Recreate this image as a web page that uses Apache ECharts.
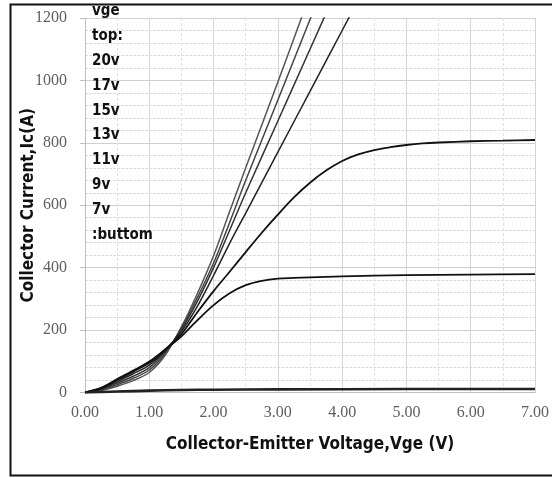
<!DOCTYPE html>
<html lang="en">
<head>
    <meta charset="UTF-8">
    <script src="https://cdn.jsdelivr.net/npm/echarts@6/dist/echarts.min.js"></script>
    <title>IGBT output characteristics</title>
    <style>
        html, body { margin: 0; padding: 0; background: #fff; }
    </style>
</head>
<body>
    <div id="main" style="width: 552px;height:478px;"></div>

    <script type="text/javascript">
        // Vce (V) -> Ic (A), one array per gate voltage
        var vge20 = [[0,0],[0.25,6],[0.5,20],[0.75,38],[1.0,64],[1.25,120],[1.5,210],[1.75,318],[2.0,438],[2.25,580],[2.5,720],[3.0,995],[3.5,1275]];
        var vge17 = [[0,0],[0.25,8],[0.5,25],[0.75,45],[1.0,72],[1.25,126],[1.5,206],[1.75,305],[2.0,415],[2.25,545],[2.5,680],[3.0,937],[3.5,1195],[3.75,1325]];
        var vge15 = [[0,0],[0.25,10],[0.5,30],[0.75,52],[1.0,80],[1.25,131],[1.5,202],[1.75,293],[2.0,400],[2.25,520],[2.5,640],[3.0,870],[3.5,1100],[4.0,1330]];
        var vge13 = [[0,0],[0.25,12],[0.5,35],[0.75,60],[1.0,88],[1.25,135],[1.5,196],[1.75,277],[2.0,375],[2.25,478],[2.5,575],[3.0,770],[3.5,965],[4.0,1160],[4.5,1355]];
        var vge11 = [[0,0],[0.25,14],[0.5,40],[0.75,67],[1.0,95],[1.25,138],[1.5,188],[1.75,258],[2.0,325],[2.25,387],[2.5,450],[2.75,512],[3.0,570],[3.25,625],[3.5,672],[3.75,711],[4.0,742],[4.25,763],[4.5,777],[4.75,786],[5.0,793],[5.25,798],[5.5,801],[6.0,805],[6.5,807],[7.0,809]];
        var vge9 = [[0,0],[0.25,15],[0.5,43],[0.75,70],[1.0,99],[1.25,138],[1.5,180],[1.75,232],[2.0,280],[2.25,318],[2.5,344],[2.75,358],[3.0,365],[3.25,367],[3.5,369],[4.0,372],[5.0,376],[6.0,378],[7.0,379]];
        var vge7 = [[0,0],[0.5,3],[1.0,6],[1.5,8],[2.0,9],[3.0,10],[5.0,11],[7.0,11]];

        var legendLines = ['vge', 'top:', '20v', '17v', '15v', '13v', '11v', '9v', '7v', ':buttom'];

        var curves = [
            { name: '20v', data: vge20, color: '#555', width: 1.5 },
            { name: '17v', data: vge17, color: '#444', width: 1.5 },
            { name: '15v', data: vge15, color: '#333', width: 1.5 },
            { name: '13v', data: vge13, color: '#222', width: 1.5 },
            { name: '11v', data: vge11, color: '#111', width: 1.8 },
            { name: '9v', data: vge9, color: '#111', width: 1.8 },
            { name: '7v', data: vge7, color: '#222', width: 2.6 }
        ];

        var s = [];
        for (var k = 0; k < curves.length; k++) {
            s.push({
                name: curves[k].name,
                type: 'line',
                smooth: 0.3,
                showSymbol: false,
                clip: true,
                lineStyle: { color: curves[k].color, width: curves[k].width },
                data: curves[k].data
            });
        }

        var g = [];
        // outer frame
        g.push({
            type: 'rect',
            shape: { x: 10.5, y: 4.5, width: 560, height: 471 },
            style: { fill: null, stroke: '#111', lineWidth: 2 },
            z: 10
        });
        for (var i = 0; i < legendLines.length; i++) {
            g.push({
                type: 'text',
                left: 92,
                top: 4 + i * 24.8,
                style: {
                    text: legendLines[i],
                    font: 'bold 15px "Liberation Sans Narrow", "DejaVu Sans Condensed", sans-serif',
                    fill: '#111'
                },
                z: 20
            });
        }

        var myChart = echarts.init(document.getElementById('main'));
        myChart.setOption({
            animation: false,
            backgroundColor: '#fff',
            grid: { left: 85, right: 10, top: 18, bottom: 85.5, containLabel: false },
            xAxis: {
                type: 'value',
                min: 0,
                max: 7,
                interval: 1,
                name: 'Collector-Emitter Voltage,Vge (V)',
                nameLocation: 'middle',
                nameGap: 44,
                nameMoveOverlap: false,
                nameTextStyle: {
                    fontFamily: '"Liberation Sans Narrow", "DejaVu Sans Condensed", sans-serif',
                    fontWeight: 'bold',
                    fontSize: 17,
                    color: '#111'
                },
                axisLine: { lineStyle: { color: '#bfbfbf', width: 1 } },
                axisTick: { show: false },
                axisLabel: {
                    margin: 12,
                    fontFamily: '"Liberation Serif", serif',
                    fontSize: 16,
                    color: '#5a5f66',
                    formatter: function (v) { return v.toFixed(2); }
                },
                splitLine: { lineStyle: { color: '#d4d4d4', width: 1 } },
                minorTick: { show: false, splitNumber: 2 },
                minorSplitLine: { show: true, lineStyle: { color: '#e0e0e0', type: [3, 2] } }
            },
            yAxis: {
                type: 'value',
                min: 0,
                max: 1200,
                interval: 200,
                name: 'Collector Current,Ic(A)',
                nameLocation: 'middle',
                nameGap: 48,
                nameMoveOverlap: false,
                nameTextStyle: {
                    fontFamily: '"Liberation Sans Narrow", "DejaVu Sans Condensed", sans-serif',
                    fontWeight: 'bold',
                    fontSize: 17,
                    color: '#111'
                },
                axisLine: { show: true, lineStyle: { color: '#bfbfbf', width: 1 } },
                axisTick: { show: true, length: 5, lineStyle: { color: '#bfbfbf' } },
                axisLabel: {
                    margin: 18,
                    fontFamily: '"Liberation Serif", serif',
                    fontSize: 16,
                    color: '#5a5f66',
                    formatter: function (v) { return String(v); }
                },
                splitLine: { lineStyle: { color: '#cfcfcf', width: 1 } },
                minorTick: { show: false, splitNumber: 5 },
                minorSplitLine: { show: true, lineStyle: { color: '#dcdcdc', type: [3, 1] } }
            },
            graphic: g,
            series: s
        });
    </script>
</body>
</html>
